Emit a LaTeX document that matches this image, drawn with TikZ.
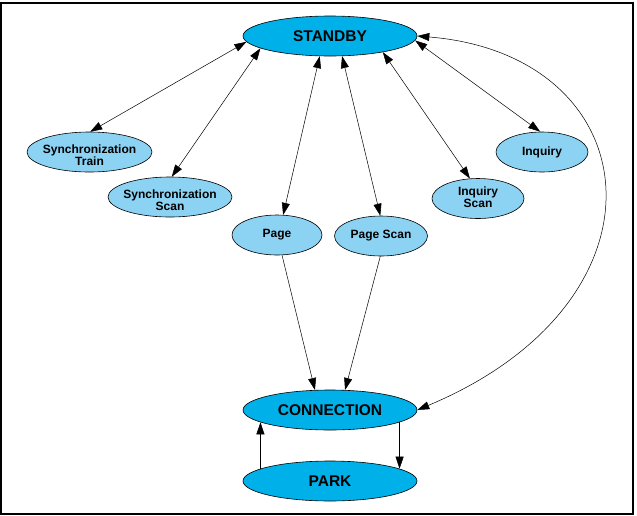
\documentclass[tikz,border=0pt]{standalone}
\usepackage{fontspec}
\setmainfont{Liberation Sans}
\usetikzlibrary{shapes.geometric,arrows.meta}
\definecolor{deepblue}{RGB}{0,176,232}
\definecolor{lightblue}{RGB}{140,210,242}
\begin{document}
\begin{tikzpicture}[x=1pt,y=-1pt,
  big/.style={ellipse,draw=black,line width=0.6pt,fill=deepblue,minimum width=174pt,minimum height=40pt,inner sep=0pt,font=\bfseries\fontsize{15.5}{17}\selectfont},
  small/.style={ellipse,draw=black,line width=0.6pt,fill=lightblue,minimum height=40pt,inner sep=0pt},
  txt/.style={inner sep=0pt,align=center,font=\bfseries\fontsize{12}{12}\selectfont},
  link/.style={line width=0.5pt,-{Triangle[length=12pt,width=8pt]}},
  dlink/.style={line width=0.5pt,{Triangle[length=12pt,width=8pt]}-{Triangle[length=12pt,width=8pt]}}]
\useasboundingbox (0,0) rectangle (637,515);
\draw[line width=2pt] (1,3) rectangle (633,513.5);

\node[big] (sb) at (330,36) {STANDBY};
\node[big] (conn) at (330,410) {CONNECTION};
\node[big] (park) at (330,481) {PARK};
\node[small,minimum width=125pt,label={[txt,yshift=-3pt]center:{Synchronization\\Train}}] (st) at (89.5,152) {};
\node[small,minimum width=124pt,label={[txt,yshift=-3pt]center:{Synchronization\\Scan}}] (ss) at (170,197) {};
\node[small,minimum width=90pt,label={[txt]center:Page}] (pg) at (277,235) {};
\node[small,minimum width=93pt,label={[txt]center:Page Scan}] (ps) at (381,236) {};
\node[small,minimum width=92pt,label={[txt,yshift=1pt]center:{Inquiry\\Scan}}] (is) at (478,198.5) {};
\node[small,minimum width=92pt,label={[txt]center:Inquiry}] (iq) at (542,152) {};

\draw[dlink] (sb.184) -- (st.88);
\draw[dlink] (sb.190) -- (ss.85);
\draw[dlink] (sb.243) -- (pg.73);
\draw[dlink] (sb.301) -- (ps.92);
\draw[dlink] (sb.343) -- (is.112);
\draw[dlink] (sb.357) -- (iq.95);
\draw[dlink] (sb.east) .. controls (650,55) and (680,300) .. (conn.east);
\draw[link] (pg.284) -- (conn.127);
\draw[link] (ps.268) -- (conn.53);
\draw[link] (conn.350) -- (park.10);
\draw[link] (park.170) -- (conn.190);
\end{tikzpicture}
\end{document}
